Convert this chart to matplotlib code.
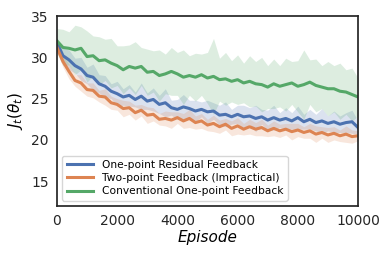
import numpy as np
import matplotlib
matplotlib.use("Agg")
import matplotlib.pyplot as plt

episodes = np.arange(0, 10001, 200)

residual_mean = [31.8, 30.2, 29.7, 29.0, 28.6, 27.8, 27.6, 26.8, 26.5, 25.9,
                 25.6, 25.2, 25.4, 24.9, 25.3, 24.7, 24.9, 24.3, 24.5, 23.9,
                 23.7, 24.0, 23.8, 23.5, 23.7, 23.4, 23.5, 23.0, 23.1, 22.8,
                 23.1, 22.8, 22.9, 22.6, 22.8, 22.4, 22.7, 22.4, 22.6, 22.3,
                 22.7, 22.2, 22.5, 22.1, 22.3, 22.0, 22.2, 21.9, 22.1, 22.2, 21.5]
residual_sd = [0.6, 0.9, 1.2, 0.9, 1.4, 1.0, 1.6, 1.1, 1.3, 0.9,
               1.5, 1.0, 1.3, 0.9, 1.6, 1.0, 1.4, 1.1, 1.7, 0.9,
               1.2, 1.5, 1.0, 1.3, 0.9, 1.4, 1.0, 1.2, 1.5, 0.9,
               1.1, 1.4, 1.0, 1.6, 0.9, 1.2, 1.5, 0.9, 1.3, 1.0,
               1.4, 0.9, 1.2, 1.0, 1.5, 0.9, 1.3, 1.0, 1.2, 1.4, 0.8]

twopoint_mean = [31.2, 29.5, 28.3, 27.2, 26.9, 26.1, 26.0, 25.3, 25.2, 24.5,
                 24.3, 23.8, 23.9, 23.3, 23.6, 23.0, 23.1, 22.5, 22.6, 22.4,
                 22.7, 22.3, 22.6, 22.1, 22.3, 21.8, 22.0, 21.6, 21.9, 21.4,
                 21.7, 21.3, 21.6, 21.3, 21.5, 21.1, 21.4, 21.1, 21.3, 21.0,
                 21.2, 20.9, 21.1, 20.7, 20.9, 20.6, 20.8, 20.5, 20.7, 20.4, 20.5]
twopoint_sd = [0.5, 0.7, 0.9, 0.7, 1.0, 0.8, 0.9, 0.7, 1.0, 0.8,
               0.7, 1.0, 0.8, 0.9, 0.7, 1.0, 0.8, 0.7, 0.9, 1.0,
               0.7, 0.9, 1.1, 0.8, 0.9, 0.7, 1.0, 0.8, 0.7, 0.9,
               1.0, 0.7, 0.9, 0.8, 1.0, 0.7, 0.9, 0.8, 0.7, 1.0,
               0.8, 0.7, 0.9, 1.0, 0.7, 0.9, 0.8, 0.7, 1.0, 0.8, 0.6]

conventional_mean = [32.0, 31.2, 31.1, 30.9, 31.1, 30.1, 30.2, 29.6, 29.7, 29.3,
                     29.0, 28.5, 28.9, 28.7, 28.9, 28.2, 28.3, 27.8, 28.0, 28.3,
                     28.0, 27.6, 27.8, 27.6, 27.9, 27.5, 27.7, 27.3, 27.4, 27.1,
                     27.3, 26.9, 27.1, 26.8, 26.7, 26.4, 26.8, 26.5, 26.7, 26.9,
                     26.5, 26.7, 27.0, 26.6, 26.4, 26.2, 26.2, 25.9, 25.8, 25.5, 25.2]
conventional_sd = [1.5, 2.2, 2.0, 3.0, 2.6, 3.1, 2.4, 2.9, 2.5, 3.0,
                   2.4, 2.9, 2.6, 3.2, 2.3, 2.8, 2.5, 3.1, 2.4, 2.9,
                   2.6, 3.3, 2.4, 2.9, 2.5, 3.1, 4.6, 2.6, 3.2, 2.5,
                   3.0, 2.4, 3.1, 2.7, 3.3, 2.6, 3.0, 2.5, 3.2, 2.6,
                   3.1, 4.2, 2.7, 3.2, 2.6, 3.3, 2.8, 3.4, 2.7, 3.2, 2.3]

series = [
    ("One-point Residual Feedback", residual_mean, residual_sd, "#4C72B0"),
    ("Two-point Feedback (Impractical)", twopoint_mean, twopoint_sd, "#DD8452"),
    ("Conventional One-point Feedback", conventional_mean, conventional_sd, "#55A868"),
]

fig = plt.figure(figsize=(3.9, 2.6), dpi=100)
ax = fig.add_axes([0.146, 0.208, 0.772, 0.730])

for label, mean, sd, color in series:
    mean = np.array(mean)
    sd = np.array(sd)
    ax.fill_between(episodes, mean - sd, mean + sd, color=color, alpha=0.2, lw=0)
    ax.plot(episodes, mean, color=color, lw=2.2, label=label)

ax.set_xlim(0, 10000)
ax.set_ylim(12, 35)
ax.set_yticks([15, 20, 25, 30, 35])
ax.set_xticks([0, 2000, 4000, 6000, 8000, 10000])
ax.tick_params(length=0, labelsize=10, pad=6, colors="#262626")
for s in ax.spines.values():
    s.set_color("#262626")
    s.set_linewidth(1.25)

ax.set_xlabel("Episode", fontsize=11, style="italic", labelpad=1)
ax.set_ylabel(r"$J_t(\theta_t)$", fontsize=11, labelpad=4)

leg = ax.legend(loc="lower left", fontsize=7.7, frameon=True, handlelength=2.5,
                borderpad=0.4, labelspacing=0.3)
leg.get_frame().set_edgecolor("#cccccc")

fig.savefig("out.png", dpi=100)
